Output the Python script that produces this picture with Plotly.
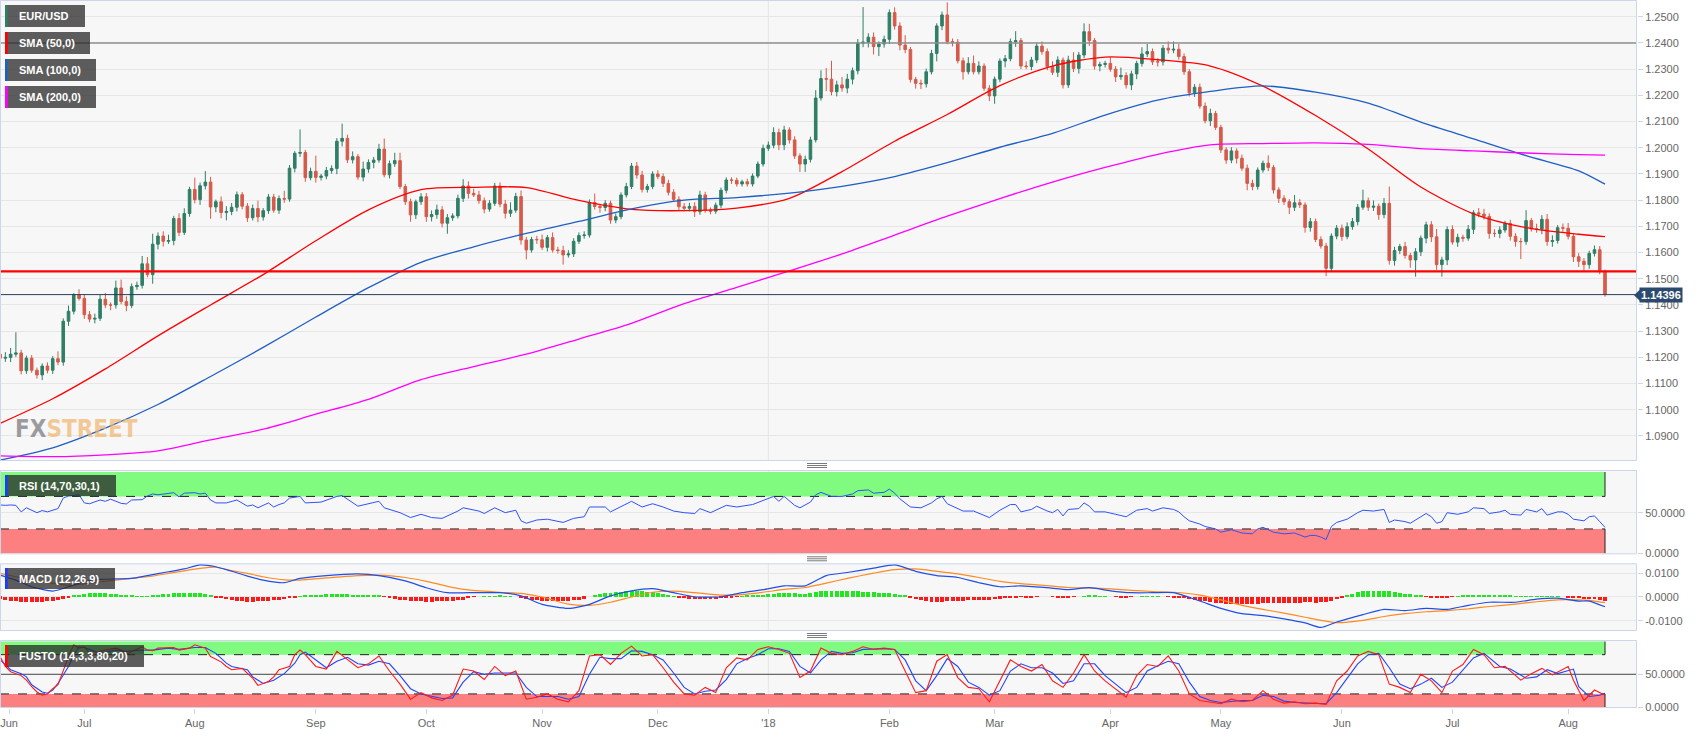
import plotly.graph_objects as go
import pandas as pd

# ---------------------------------------------------------------- data
DATES = pd.bdate_range("2017-06-09", "2018-08-10")  # 306 daily candles

CLOSE_2017_06 = [1.1197, 1.1200, 1.1212, 1.1217, 1.1149, 1.1197, 1.1151, 1.1133, 1.1167, 1.1151,
                 1.1195, 1.1182, 1.1338, 1.1376, 1.1440, 1.1425]
CLOSE_2017_07 = [1.1363, 1.1346, 1.1349, 1.1422, 1.1400, 1.1400, 1.1465, 1.1413, 1.1398, 1.1470,
                 1.1475, 1.1557, 1.1516, 1.1632, 1.1663, 1.1643, 1.1646, 1.1730, 1.1677, 1.1749, 1.1841]
CLOSE_2017_08 = [1.1802, 1.1855, 1.1869, 1.1774, 1.1794, 1.1753, 1.1757, 1.1773, 1.1821, 1.1777,
                 1.1733, 1.1768, 1.1736, 1.1760, 1.1812, 1.1762, 1.1806, 1.1804, 1.1922, 1.1979,
                 1.1982, 1.1886, 1.1910]
CLOSE_2017_09 = [1.1887, 1.1892, 1.1913, 1.1921, 1.2025, 1.2036, 1.1954, 1.1966, 1.1888, 1.1919,
                 1.1944, 1.1953, 1.1995, 1.1897, 1.1939, 1.1951, 1.1852, 1.1794, 1.1744, 1.1794, 1.1813]
CLOSE_2017_10 = [1.1737, 1.1745, 1.1763, 1.1712, 1.1733, 1.1740, 1.1807, 1.1854, 1.1826, 1.1820,
                 1.1798, 1.1766, 1.1788, 1.1854, 1.1785, 1.1750, 1.1762, 1.1814, 1.1648, 1.1610,
                 1.1650, 1.1649]
CLOSE_2017_11 = [1.1620, 1.1657, 1.1610, 1.1608, 1.1591, 1.1595, 1.1643, 1.1665, 1.1667, 1.1791,
                 1.1776, 1.1772, 1.1788, 1.1724, 1.1737, 1.1820, 1.1852, 1.1930, 1.1896, 1.1841,
                 1.1852, 1.1900]
CLOSE_2017_12 = [1.1890, 1.1864, 1.1830, 1.1803, 1.1775, 1.1769, 1.1776, 1.1756, 1.1820, 1.1762,
                 1.1758, 1.1781, 1.1838, 1.1877, 1.1876, 1.1862, 1.1870, 1.1862, 1.1892, 1.1938, 1.1998]
CLOSE_2018_01 = [1.2010, 1.2058, 1.2011, 1.2068, 1.2030, 1.1969, 1.1938, 1.1956, 1.2030, 1.2190,
                 1.2264, 1.2262, 1.2214, 1.2240, 1.2228, 1.2262, 1.2294, 1.2399, 1.2403, 1.2422,
                 1.2386, 1.2396, 1.2414]
CLOSE_2018_02 = [1.2516, 1.2465, 1.2392, 1.2375, 1.2261, 1.2246, 1.2244, 1.2290, 1.2360, 1.2465,
                 1.2507, 1.2405, 1.2403, 1.2332, 1.2290, 1.2322, 1.2290, 1.2312, 1.2227, 1.2198]
CLOSE_2018_03 = [1.2262, 1.2331, 1.2340, 1.2405, 1.2409, 1.2312, 1.2310, 1.2335, 1.2388, 1.2367,
                 1.2310, 1.2288, 1.2335, 1.2240, 1.2335, 1.2303, 1.2354, 1.2443, 1.2409, 1.2312,
                 1.2318, 1.2322]
CLOSE_2018_04 = [1.2300, 1.2271, 1.2276, 1.2240, 1.2282, 1.2322, 1.2358, 1.2367, 1.2328, 1.2328,
                 1.2380, 1.2373, 1.2376, 1.2348, 1.2290, 1.2210, 1.2231, 1.2159, 1.2103, 1.2131, 1.2078]
CLOSE_2018_05 = [1.1992, 1.1953, 1.1988, 1.1960, 1.1922, 1.1864, 1.1852, 1.1915, 1.1941, 1.1925,
                 1.1839, 1.1807, 1.1794, 1.1773, 1.1790, 1.1782, 1.1696, 1.1718, 1.1650, 1.1625,
                 1.1540, 1.1663, 1.1693]
CLOSE_2018_06 = [1.1661, 1.1699, 1.1718, 1.1773, 1.1798, 1.1773, 1.1777, 1.1745, 1.1788, 1.1570,
                 1.1608, 1.1623, 1.1589, 1.1572, 1.1603, 1.1655, 1.1706, 1.1660, 1.1554, 1.1572, 1.1688]
CLOSE_2018_07 = [1.1640, 1.1658, 1.1655, 1.1689, 1.1752, 1.1747, 1.1738, 1.1673, 1.1673, 1.1686,
                 1.1711, 1.1662, 1.1642, 1.1642, 1.1722, 1.1690, 1.1690, 1.1727, 1.1642, 1.1646,
                 1.1695, 1.1693]
CLOSE_2018_08 = [1.1662, 1.1584, 1.1567, 1.1554, 1.1597, 1.1611, 1.1527, 1.14396]
FIRST_OPEN = 1.1212

# wick lengths above / below the body, in pips
UPPER_WICK = ([12, 20, 24, 79, 12, 10, 12, 10, 10, 14, 10, 28, 11, 22, 5, 20] +
              [15, 14, 18, 16, 24, 10, 28, 32, 20, 12, 14, 30, 26, 40, 14, 18, 22, 10, 20, 20, 10] +
              [45, 12, 42, 20, 8, 20, 20, 16, 12, 10, 12, 15, 30, 10, 12, 12, 12, 30, 12, 8, 88, 10, 14] +
              [60, 8, 14, 12, 12, 56, 14, 20, 10, 28, 12, 12, 20, 40, 12, 30, 30, 10, 12, 8, 14] +
              [14, 16, 20, 14, 14, 10, 14, 26, 18, 18, 16, 12, 12, 12, 14, 16, 30, 14, 23, 12, 10, 14] +
              [20, 10, 20, 12, 18, 14, 12, 12, 14, 12, 34, 10, 12, 10, 12, 10, 14, 12, 16, 16, 10, 10] +
              [14, 12, 14, 12, 12, 14, 14, 16, 16, 12, 10, 10, 10, 10, 10, 10, 8, 12, 10, 10, 14] +
              [14, 20, 15, 16, 10, 14, 10, 14, 12, 30, 32, 40, 70, 16, 30, 20, 12, 16, 134, 15, 18, 10, 14] +
              [12, 20, 14, 38, 10, 10, 14, 12, 14, 10, 13, 48, 12, 12, 12, 24, 30, 18, 10, 12] +
              [10, 10, 14, 12, 36, 10, 18, 12, 14, 18, 12, 20, 14, 10, 16, 30, 12, 32, 30, 10, 10, 10] +
              [24, 12, 30, 12, 12, 10, 26, 30, 12, 14, 12, 26, 30, 20, 12, 10, 12, 14, 14, 18, 10] +
              [10, 10, 14, 10, 14, 14, 14, 10, 10, 30, 10, 10, 12, 10, 30, 14, 10, 14, 12, 12, 12, 10, 12] +
              [14, 16, 14, 12, 42, 12, 22, 10, 20, 64, 14, 10, 18, 10, 14, 10, 12, 14, 30, 12, 12] +
              [16, 14, 10, 16, 10, 18, 20, 12, 16, 14, 10, 14, 12, 14, 40, 10, 20, 16, 20, 20, 10, 16] +
              [20, 10, 14, 12, 10, 16, 14, 8])
LOWER_WICK = ([10, 14, 18, 10, 14, 12, 10, 14, 20, 12, 14, 12, 14, 18, 12, 8] +
              [16, 12, 16, 10, 12, 20, 14, 10, 22, 10, 12, 12, 10, 35, 20, 20, 10, 18, 14, 10, 12] +
              [14, 20, 14, 45, 20, 22, 30, 14, 16, 12, 16, 10, 20, 14, 12, 10, 14, 14, 10, 16, 14, 16, 10] +
              [20, 12, 12, 12, 22, 20, 12, 14, 10, 16, 14, 22, 10, 10, 14, 12, 10, 12, 26, 16, 12] +
              [20, 18, 16, 16, 40, 12, 10, 14, 20, 8, 12, 16, 10, 10, 12, 20, 14, 10, 18, 36, 10, 16] +
              [10, 16, 10, 12, 37, 10, 12, 10, 12, 10, 12, 20, 14, 14, 12, 10, 10, 10, 14, 12, 12, 10] +
              [10, 14, 12, 10, 16, 12, 12, 20, 12, 10, 12, 10, 12, 12, 14, 10, 10, 10, 10, 8, 10] +
              [10, 12, 20, 20, 14, 12, 30, 30, 12, 10, 10, 46, 14, 18, 14, 20, 20, 14, 15, 20, 30, 36, 14] +
              [18, 14, 20, 14, 12, 20, 20, 14, 10, 30, 16, 10, 16, 10, 30, 10, 10, 10, 10, 20] +
              [30, 12, 24, 10, 20, 12, 10, 14, 12, 12, 14, 10, 18, 14, 12, 14, 20, 12, 20, 14, 20, 12] +
              [10, 20, 12, 14, 20, 20, 12, 12, 12, 18, 14, 14, 12, 12, 12, 14, 16, 10, 10, 20, 10] +
              [12, 14, 12, 20, 10, 26, 14, 12, 10, 14, 14, 18, 12, 26, 14, 12, 20, 16, 10, 10, 30, 14, 12] +
              [16, 10, 12, 14, 10, 14, 14, 20, 14, 16, 20, 14, 12, 30, 64, 16, 20, 20, 20, 46, 20] +
              [10, 18, 14, 10, 18, 12, 12, 20, 14, 18, 10, 16, 20, 67, 12, 10, 14, 20, 16, 20, 12, 14] +
              [12, 20, 22, 24, 16, 12, 10, 8])

# moving averages, read every 10 candles (candle index, SMA50, SMA100, SMA200)
SMA_IDX = [0, 10, 20, 30, 40, 50, 60, 70, 80, 90, 100, 110, 120, 130, 140, 150, 160, 170, 180, 190,
           200, 210, 220, 230, 240, 250, 260, 270, 280, 290, 300, 305]
SMA_50 = [1.0948, 1.1042, 1.1156, 1.1282, 1.1400, 1.1516, 1.1645, 1.1763, 1.1840, 1.1849, 1.1848,
          1.1799, 1.1765, 1.1760, 1.1770, 1.1807, 1.1909, 1.2025, 1.2127, 1.2237, 1.2312, 1.2346,
          1.2336, 1.2312, 1.2235, 1.2123, 1.1995, 1.1850, 1.1748, 1.1695, 1.1670, 1.1661]
SMA_100 = [1.0808, 1.0855, 1.0930, 1.1020, 1.1127, 1.1238, 1.1354, 1.1466, 1.1563, 1.1622, 1.1673,
           1.1719, 1.1767, 1.1800, 1.1810, 1.1827, 1.1853, 1.1890, 1.1943, 1.2002, 1.2055, 1.2125,
           1.2182, 1.2215, 1.2236, 1.2212, 1.2170, 1.2098, 1.2034, 1.1970, 1.1912, 1.1861]
SMA_200 = [1.0824, 1.0821, 1.0828, 1.0843, 1.0885, 1.0926, 1.0983, 1.1040, 1.1115, 1.1165, 1.1212,
           1.1270, 1.1330, 1.1405, 1.1467, 1.1530, 1.1595, 1.1667, 1.1739, 1.1806, 1.1869, 1.1925,
           1.1975, 1.2011, 1.2016, 1.2019, 1.2013, 1.1997, 1.1988, 1.1980, 1.1974, 1.1972]

# horizontal levels
LEVEL_GREY = 1.2400
LEVEL_RED = 1.1528
LAST_PRICE = 1.14396

# RSI (candle index, value)
RSI_POINTS = [(0, 59.5), (1, 59), (2, 59.5), (3, 59), (4, 51), (5, 56), (7, 50), (8, 52.6), (9, 51), (10, 53),
              (11, 55), (12, 68), (13, 70.5), (15, 72), (16, 62), (17, 61), (19, 65.6), (20, 64), (21, 66.6),
              (23, 61.5), (24, 60.7), (25, 65.6), (27, 66), (28, 70.5), (29, 73), (30, 72), (32, 74), (33, 74.6),
              (34, 69.5), (35, 74), (37, 74.6), (38, 73), (39, 74), (40, 65.6), (41, 62), (43, 62), (45, 65.6),
              (47, 58), (48, 59.5), (49, 56), (51, 62), (52, 57), (53, 60), (54, 62), (55, 68), (57, 70),
              (58, 62), (61, 63), (64, 70), (65, 71), (68, 58), (71, 62), (72, 64), (73, 56), (76, 50), (78, 44),
              (80, 48), (82, 44), (84, 43), (87, 52), (88, 56), (91, 52), (92, 49), (94, 56), (96, 50), (98, 53),
              (99, 40), (100, 37), (102, 41), (104, 42), (107, 38), (109, 43), (111, 45), (112, 57), (115, 57),
              (116, 51), (118, 58), (120, 64), (122, 57), (124, 61), (126, 57), (128, 52), (130, 50), (132, 49),
              (133, 55), (135, 50), (137, 56), (138, 59), (140, 57), (143, 60), (145, 65), (147, 70), (148, 64),
              (149, 70), (151, 59), (152, 56), (154, 63), (155, 72), (156, 75), (158, 70), (160, 70), (162, 73),
              (163, 77), (165, 78), (166, 74), (168, 75), (169, 79), (170, 74), (171, 67), (173, 57), (175, 56),
              (177, 62), (178, 67), (179, 70), (180, 61), (182, 55), (183, 52), (185, 52), (187, 46), (188, 44),
              (190, 53), (192, 60), (193, 60), (194, 51), (196, 54), (197, 58), (199, 52), (200, 50), (201, 54),
              (202, 46), (203, 54), (205, 55), (206, 62), (207, 58), (208, 51), (210, 51), (212, 48), (214, 45),
              (216, 53), (218, 55), (219, 52), (221, 56), (223, 54), (224, 51), (225, 45), (226, 40), (228, 36),
              (229, 33), (231, 30), (232, 26), (234, 29), (236, 25), (238, 24), (239, 30), (240, 32), (242, 26),
              (244, 24), (246, 25), (248, 20), (249, 22), (250, 22), (251, 20), (252, 17), (253, 33), (254, 38),
              (256, 42), (258, 50), (259, 53), (261, 52), (263, 54), (264, 38), (265, 41), (267, 39), (268, 37),
              (270, 45), (271, 49), (272, 45), (273, 37), (274, 39), (275, 50), (277, 48), (279, 51), (280, 56),
              (282, 55), (283, 49), (285, 51), (286, 53), (287, 48), (289, 47), (290, 54), (292, 51), (293, 55),
              (294, 47), (296, 51), (297, 51), (298, 48), (299, 42), (300, 41), (301, 40), (302, 45), (303, 46),
              (304, 39), (305, 32)]

# MACD (12,26,9): line and signal read at these candles (units of 1e-4)
MACD_IDX = [0, 3, 6, 10, 13, 16, 19, 22, 25, 28, 32, 35, 38, 41, 44, 47, 50, 54, 57, 62,
            68, 72, 77, 81, 85, 89, 95, 99, 103, 108, 112, 116, 120, 124, 128, 132, 137, 141, 145, 149,
            153, 157, 161, 166, 170, 174, 178, 182, 186, 190, 194, 199, 203, 207, 211, 215, 219, 223, 228, 232,
            236, 240, 244, 248, 251, 254, 259, 263, 267, 271, 275, 279, 283, 288, 292, 296, 300, 302, 305]
MACD_LINE = [92, 71, 43, 25, 43, 64, 74, 76, 78, 90, 106, 118, 135, 127, 108, 88, 71, 60, 78, 90,
             97, 90, 68, 39, 18, 18, 18, 5, -31, -48, -31, 5, 26, 35, 18, 1, 1, 18, 31, 47,
             47, 90, 103, 121, 135, 108, 90, 82, 60, 43, 47, 39, 31, 39, 26, 18, 18, 18, -17, -48,
             -70, -78, -92, -109, -128, -105, -74, -52, -57, -48, -52, -35, -22, -22, -9, -5, -17, -17, -41]
MACD_SIGNAL = [99, 85, 71, 58, 50, 55, 64, 71, 78, 85, 99, 110, 120, 125, 111, 99, 85, 72, 71, 80,
               90, 92, 82, 66, 45, 30, 20, 15, 0, -30, -35, -22, 0, 20, 25, 18, 8, 10, 20, 32,
               40, 58, 78, 100, 115, 118, 108, 97, 82, 66, 56, 48, 40, 38, 34, 28, 23, 20, 8, -12,
               -35, -52, -68, -85, -98, -108, -98, -82, -70, -62, -57, -50, -40, -30, -20, -12, -12, -14, -24]
# histogram, one bar per candle (units of 1e-4)
MACD_HIST = ([-8, -12, -16, -20, -22, -24, -24, -23, -22, -20, -18, -14, -8] +
             [-2, 4, 8, 12, 14, 15, 15, 14, 12, 10, 8, 6] + [3, 2, 1, 2] +
             [5, 8, 10, 12, 14, 15, 16, 17, 16, 14, 10, 6] +
             [-2, -6, -10, -14, -17, -19, -21, -21, -20, -18, -16, -14, -12, -9, -6, -3] +
             [2, 5, 7, 8, 9, 10] + [10, 12, 12, 10, 9, 7, 6, 6, 6, 5] +
             [-1, -4, -8, -12, -15, -18, -19, -20, -21, -21, -20, -19, -18, -16, -14, -12] +
             [-2, -1, 0, 1, 2, 2, 3, 2, 1, 0] +
             [-4, -8, -12, -14, -16, -18, -19, -19, -18, -17, -15, -12, -8] +
             [0, 6, 10, 14, 16, 18, 20, 22, 24, 24, 22, 20, 18] +
             [14, 10, 6, 2, -2, -5, -8, -10, -11, -11, -10, -9, -7] +
             [-5, -3, -1, 1, 3, 5, 7, 9, 11] +
             [13, 14, 14, 15, 14, 13, 12, 14, 18, 22, 24, 25, 25, 24, 23, 22, 22, 21, 20, 18, 16, 14] +
             [14, 12, 8, 3, -4, -10, -15, -19, -21, -22, -21, -20, -19, -18, -16, -14, -13, -12] +
             [-12, -13, -11, -8, -6, -4, -2, -1, -2, -2, -1, 0] +
             [0, -1, -2, -3, -2, -1, 0, 2, 3, 3, 2, 1, 0, -1, -2, -2, -1, 0, 1, 2, 2, 1, 0, -1, -2, -4] +
             [-7, -10, -13, -16, -19, -22, -25, -28, -30, -31, -32, -32, -31, -30, -29, -28, -28, -28,
              -27, -26, -26, -25, -25, -24, -24, -25, -24, -22, -18, -10] +
             [-2, 6, 12, 18, 22, 25, 26, 26, 26, 22, 18, 15, 12, 10, 8, 7] +
             [-1, -3, -4, -4, -3, -1] +
             [1, 3, 5, 6, 7, 7, 6, 5, 4, 3, 3, 2, 2] +
             [2, 2, 2, 2, 1, 1, 1, 0, -2, -5, -7, -9, -10, -11, -13, -16])

# full stochastic (14,3,3): %K (red) and %D (blue), (candle index, value)
STOCH_K = [(0, 77), (1, 62), (2, 54), (4, 48), (5, 41), (6, 31), (7, 23), (8, 18), (9, 20), (10, 28), (11, 34),
           (12, 57), (13, 77), (14, 95), (15, 90), (16, 92), (17, 82), (18, 80), (19, 85), (20, 87), (22, 90),
           (23, 87), (24, 80), (25, 85), (27, 92), (28, 87), (29, 86), (30, 90), (32, 90), (33, 91), (34, 87),
           (36, 90), (37, 95), (38, 92), (39, 90), (40, 77), (42, 69), (43, 62), (44, 57), (46, 59), (47, 51),
           (48, 44), (49, 33), (51, 39), (52, 46), (53, 57), (55, 62), (56, 80), (57, 87),
           (58, 80), (60, 62), (62, 58), (64, 85), (66, 72), (68, 60), (70, 66), (72, 78), (74, 55), (76, 35),
           (78, 12), (80, 22), (82, 14), (84, 10), (86, 18), (88, 58), (90, 55), (92, 42), (94, 62), (96, 48),
           (98, 55), (100, 12), (102, 15), (104, 20), (106, 12), (108, 8), (110, 25), (112, 78), (114, 80),
           (116, 65), (118, 82), (120, 93), (122, 78), (124, 80), (126, 60), (128, 38), (130, 20), (132, 18),
           (134, 30), (136, 22), (138, 60), (140, 75), (142, 72), (144, 88), (146, 92), (148, 88), (150, 82),
           (152, 45), (154, 55), (156, 90), (158, 82), (160, 80), (162, 85), (164, 92), (166, 88), (168, 90),
           (170, 88), (172, 55), (174, 22), (176, 25), (178, 70), (180, 80), (182, 45), (184, 30), (186, 28),
           (188, 8), (190, 40), (192, 72), (194, 62), (196, 55), (198, 65), (200, 40), (202, 30), (204, 52),
           (206, 80), (208, 55), (210, 40), (212, 28), (214, 15), (216, 48), (218, 65), (220, 62), (222, 78),
           (224, 55), (226, 20), (228, 10), (230, 8), (232, 5), (234, 12), (236, 8), (238, 10), (240, 25),
           (242, 12), (244, 6), (246, 8), (248, 5), (250, 6), (252, 4), (254, 40), (256, 55), (258, 78),
           (260, 85), (262, 80), (264, 35), (266, 30), (268, 22), (270, 50), (272, 40), (274, 22), (276, 55),
           (278, 65), (280, 88), (282, 80), (284, 60), (286, 62), (288, 48), (289, 41), (291, 51), (293, 59),
           (295, 49), (298, 62), (299, 41), (301, 10), (303, 26), (305, 18)]
STOCH_D = [(0, 72), (2, 57), (4, 51), (5, 46), (6, 34), (8, 23), (9, 21), (10, 26), (11, 36), (13, 62), (14, 80),
           (15, 92), (16, 91), (18, 85), (19, 82), (22, 87), (24, 85), (27, 87), (29, 87), (32, 90), (34, 88),
           (37, 91), (39, 91), (41, 82), (43, 67), (44, 62), (47, 57), (48, 46), (50, 36), (52, 41), (54, 51),
           (56, 67), (57, 80),
           (58, 84), (60, 72), (62, 60), (64, 70), (66, 76), (68, 66), (70, 64), (72, 70), (74, 66), (76, 48),
           (78, 28), (80, 20), (82, 16), (84, 13), (86, 14), (88, 38), (90, 54), (92, 50), (94, 52), (96, 52),
           (98, 52), (100, 30), (102, 16), (104, 16), (106, 16), (108, 12), (110, 16), (112, 50), (114, 76),
           (116, 74), (118, 74), (120, 86), (122, 85), (124, 80), (126, 72), (128, 52), (130, 30), (132, 20),
           (134, 24), (136, 26), (138, 42), (140, 66), (142, 74), (144, 80), (146, 89), (148, 89), (150, 85),
           (152, 62), (154, 52), (156, 72), (158, 85), (160, 82), (162, 83), (164, 88), (166, 89), (168, 89),
           (170, 88), (172, 72), (174, 40), (176, 25), (178, 48), (180, 74), (182, 62), (184, 38), (186, 30),
           (188, 18), (190, 25), (192, 55), (194, 66), (196, 60), (198, 60), (200, 52), (202, 36), (204, 40),
           (206, 66), (208, 66), (210, 48), (212, 35), (214, 22), (216, 30), (218, 55), (220, 63), (222, 70),
           (224, 66), (226, 38), (228, 16), (230, 10), (232, 7), (234, 9), (236, 10), (238, 10), (240, 18),
           (242, 16), (244, 9), (246, 7), (248, 6), (250, 6), (252, 5), (254, 22), (256, 45), (258, 66),
           (260, 80), (262, 82), (264, 60), (266, 35), (268, 28), (270, 35), (272, 44), (274, 30), (276, 38),
           (278, 56), (280, 75), (282, 82), (284, 68), (285, 62), (287, 58), (290, 44), (292, 46), (294, 57),
           (296, 51), (299, 58), (300, 31), (302, 16), (304, 18), (305, 21)]

MONTH_LABELS = ["Jun", "Jul", "Aug", "Sep", "Oct", "Nov", "Dec", "'18",
                "Feb", "Mar", "Apr", "May", "Jun", "Jul", "Aug"]
PRICE_TICKS = [1.09, 1.10, 1.11, 1.12, 1.13, 1.14, 1.15, 1.16, 1.17, 1.18,
               1.19, 1.20, 1.21, 1.22, 1.23, 1.24, 1.25]

# ---------------------------------------------------------------- derived
CLOSES = (CLOSE_2017_06 + CLOSE_2017_07 + CLOSE_2017_08 + CLOSE_2017_09 + CLOSE_2017_10 +
          CLOSE_2017_11 + CLOSE_2017_12 + CLOSE_2018_01 + CLOSE_2018_02 + CLOSE_2018_03 +
          CLOSE_2018_04 + CLOSE_2018_05 + CLOSE_2018_06 + CLOSE_2018_07 + CLOSE_2018_08)
N = len(CLOSES)
IDX = list(range(N))
OPENS = [FIRST_OPEN] + CLOSES[:-1]
HIGHS = [max(o, c) + u / 1e4 for o, c, u in zip(OPENS, CLOSES, UPPER_WICK)]
LOWS = [min(o, c) - w / 1e4 for o, c, w in zip(OPENS, CLOSES, LOWER_WICK)]

month_starts = [0] + [i for i in range(1, len(DATES)) if DATES[i].month != DATES[i - 1].month]
tickvals = [1.7 if i == 0 else i for i in month_starts]

# ---------------------------------------------------------------- geometry
PW, PH = 1637.0, 708.0          # plot area in px
X_RANGE = [-0.02, 311.08]


def fx(x):
    return x / PW


def fy(y):
    return (PH - y) / PH


GREEN = "#2f7e66"
RED = "#d65a4a"
FONT = "Liberation Sans, Arial, sans-serif"
BORDER = "#ccd6eb"
GRID = "#e6e6e6"
TICKFONT = dict(family=FONT, size=11, color="#666666")

fig = go.Figure()

fig.add_trace(go.Candlestick(
    x=IDX, open=OPENS, high=HIGHS, low=LOWS, close=CLOSES,
    increasing=dict(line=dict(color=GREEN, width=1), fillcolor=GREEN),
    decreasing=dict(line=dict(color=RED, width=1), fillcolor=RED),
    whiskerwidth=0, hoverinfo="skip", xaxis="x", yaxis="y"))

for vals, col in [(SMA_50, "#ff0000"), (SMA_100, "#1f5fc4"), (SMA_200, "#ff00ff")]:
    fig.add_trace(go.Scatter(x=SMA_IDX, y=vals, mode="lines",
                             line=dict(color=col, width=1.3, shape="spline", smoothing=0.8),
                             hoverinfo="skip", xaxis="x", yaxis="y"))

fig.add_trace(go.Scatter(x=[p[0] for p in RSI_POINTS], y=[p[1] for p in RSI_POINTS], mode="lines",
                         line=dict(color="#2f52f5", width=1), hoverinfo="skip", xaxis="x2", yaxis="y2"))

fig.add_trace(go.Bar(x=IDX, y=[h / 1e4 for h in MACD_HIST], width=0.75,
                     marker=dict(color=["#22e622" if h >= 0 else "#ff1a1a" for h in MACD_HIST], line=dict(width=0)),
                     hoverinfo="skip", xaxis="x3", yaxis="y3"))
fig.add_trace(go.Scatter(x=MACD_IDX, y=[v / 1e4 for v in MACD_SIGNAL], mode="lines",
                         line=dict(color="#ff8a1f", width=1.2, shape="spline", smoothing=0.6),
                         hoverinfo="skip", xaxis="x3", yaxis="y3"))
fig.add_trace(go.Scatter(x=MACD_IDX, y=[v / 1e4 for v in MACD_LINE], mode="lines",
                         line=dict(color="#1f4fe6", width=1.2, shape="spline", smoothing=0.6),
                         hoverinfo="skip", xaxis="x3", yaxis="y3"))

fig.add_trace(go.Scatter(x=[p[0] for p in STOCH_D], y=[p[1] for p in STOCH_D], mode="lines",
                         line=dict(color="#2244ff", width=1.1), hoverinfo="skip", xaxis="x4", yaxis="y4"))
fig.add_trace(go.Scatter(x=[p[0] for p in STOCH_K], y=[p[1] for p in STOCH_K], mode="lines",
                         line=dict(color="#ff1a1a", width=1.1), hoverinfo="skip", xaxis="x4", yaxis="y4"))

# ---------------------------------------------------------------- shapes
shapes = []


def rect_px(x0, y0, x1, y1, fill=None, line=None, lw=0, layer="above"):
    shapes.append(dict(type="rect", xref="paper", yref="paper",
                       x0=fx(x0), x1=fx(x1), y0=fy(y1), y1=fy(y0),
                       fillcolor=fill if fill else "rgba(0,0,0,0)",
                       line=dict(color=line if line else "rgba(0,0,0,0)", width=lw), layer=layer))


# year gridline
for ya in ["y", "y2", "y3", "y4"]:
    shapes.append(dict(type="line", xref="x", yref=ya + " domain", x0=month_starts[7], x1=month_starts[7],
                       y0=0, y1=1, line=dict(color=GRID, width=1), layer="below"))

# price levels
shapes.append(dict(type="line", xref="paper", yref="y", x0=0, x1=1, y0=LEVEL_GREY, y1=LEVEL_GREY,
                   line=dict(color="#8f8f8f", width=1.5), layer="above"))
shapes.append(dict(type="line", xref="paper", yref="y", x0=0, x1=1, y0=LEVEL_RED, y1=LEVEL_RED,
                   line=dict(color="#ff0000", width=2.2), layer="above"))
shapes.append(dict(type="line", xref="paper", yref="y", x0=0, x1=1, y0=LAST_PRICE, y1=LAST_PRICE,
                   line=dict(color="#2b3d5c", width=1), layer="above"))

# overbought / oversold bands
last = N - 1
for ya, lo, hi, top in [("y2", 30, 70, 100), ("y4", 20, 80, 100)]:
    shapes.append(dict(type="rect", xref="x", yref=ya, x0=X_RANGE[0], x1=last, y0=hi, y1=top,
                       fillcolor="#80fb80", line=dict(width=0), layer="below"))
    shapes.append(dict(type="rect", xref="x", yref=ya, x0=X_RANGE[0], x1=last, y0=0, y1=lo,
                       fillcolor="#fd8080", line=dict(width=0), layer="below"))
    for lv in (lo, hi):
        shapes.append(dict(type="line", xref="x", yref=ya, x0=X_RANGE[0], x1=last, y0=lv, y1=lv,
                           line=dict(color="#222222", width=1, dash="dash"), layer="below"))
    for a, b in [(hi, top), (0, lo)]:
        shapes.append(dict(type="line", xref="x", yref=ya, x0=last, x1=last, y0=a, y1=b,
                           line=dict(color="#222222", width=1), layer="below"))
shapes.append(dict(type="line", xref="paper", yref="y4", x0=0, x1=1, y0=50, y1=50,
                   line=dict(color="#444444", width=1), layer="below"))

# panel borders
for (y0, y1) in [(0, 461), (470, 554.3), (563.3, 631), (640, 708)]:
    rect_px(0.5, y0 + 0.5, PW - 0.5, y1 - 0.5, line=BORDER, lw=1)

# panel divider grips
for yc in [465.5, 558.8, 635.5]:
    for dy in (-2, 0, 2):
        shapes.append(dict(type="line", xref="paper", yref="paper", x0=fx(807), x1=fx(827),
                           y0=fy(yc + dy), y1=fy(yc + dy), line=dict(color="#7a7a7a", width=1)))

# label boxes
BOX = "rgba(40,40,40,0.75)"
labels = [  # x0, y0, x1, y1, strip colour, text
    (5, 5, 85, 27, GREEN, "EUR/USD"),
    (5, 32, 90, 54, "#ff0000", "SMA (50,0)"),
    (5, 59, 96, 81, "#1f5fc4", "SMA (100,0)"),
    (5, 86, 96, 108, "#ff00ff", "SMA (200,0)"),
    (5, 475, 116, 496, "#1a3cff", "RSI (14,70,30,1)"),
    (5, 568, 115, 589, "#1a3cff", "MACD (12,26,9)"),
    (5, 645, 144, 667, "#ff0000", "FUSTO (14,3,3,80,20)"),
]
annotations = []
for x0, y0, x1, y1, col, txt in labels:
    rect_px(x0, y0, x1, y1, fill=BOX)
    rect_px(x0, y0, x0 + 2.7, y1, fill=col)
    annotations.append(dict(xref="paper", yref="paper", x=fx(x0 + 12), y=fy((y0 + y1) / 2),
                            xanchor="left", yanchor="middle", showarrow=False, text="<b>" + txt + "</b>",
                            font=dict(family=FONT, size=11, color="#ffffff")))

# last price tag
shapes.append(dict(type="path", xref="paper", yref="paper",
                   path=f"M {fx(1634)},{fy(295.3)} L {fx(1640)},{fy(289.5)} L {fx(1640)},{fy(301)} Z",
                   fillcolor="#2c4a6e", line=dict(width=0)))
annotations.append(dict(xref="paper", yref="paper", x=fx(1639), y=fy(295.3), xanchor="left", yanchor="middle",
                        showarrow=False, text="<b>%.5f</b>" % LAST_PRICE, bgcolor="#2c4a6e", borderpad=1,
                        font=dict(family=FONT, size=11, color="#ffffff")))

# watermark
annotations.append(dict(xref="paper", yref="paper", x=fx(13), y=fy(429), xanchor="left", yanchor="middle",
                        showarrow=False,
                        text="<b><span style='color:rgba(125,125,130,0.75)'>FX</span>"
                             "<span style='color:rgba(240,180,105,0.7)'>STREET</span></b>",
                        font=dict(family="Liberation Sans Narrow, DejaVu Sans Condensed, Arial Narrow, sans-serif",
                                  size=24)))

# ---------------------------------------------------------------- layout
axis_common = dict(zeroline=False, showline=False, ticks="outside", ticklen=5, tickcolor=BORDER,
                   tickfont=TICKFONT, side="right", fixedrange=True)
xcommon = dict(range=X_RANGE, showgrid=False, zeroline=False, showline=False, fixedrange=True)

fig.update_layout(
    width=1707, height=734,
    margin=dict(l=0, r=70, t=0, b=26),
    paper_bgcolor="#ffffff", plot_bgcolor="#f7f7f7",
    showlegend=False, font=dict(family=FONT),
    xaxis=dict(**xcommon, anchor="y", showticklabels=False, rangeslider=dict(visible=False)),
    xaxis2=dict(**xcommon, anchor="y2", matches="x", showticklabels=False),
    xaxis3=dict(**xcommon, anchor="y3", matches="x", showticklabels=False),
    xaxis4=dict(**xcommon, anchor="y4", matches="x", tickvals=tickvals, ticktext=MONTH_LABELS,
                ticks="outside", ticklen=5, tickcolor=BORDER, tickfont=TICKFONT,
                ticklabeloverflow="allow"),
    yaxis=dict(**axis_common, domain=[0.34887, 1.0], range=[1.08045, 1.2564], anchor="x",
               tickvals=PRICE_TICKS, ticktext=["%.4f" % v for v in PRICE_TICKS],
               showgrid=True, gridcolor=GRID),
    yaxis2=dict(**axis_common, domain=[0.21709, 0.33616], range=[-1.2, 102.5], anchor="x2",
                tickvals=[0, 50], ticktext=["0.0000", "50.0000"], showgrid=True, gridcolor=GRID),
    yaxis3=dict(**axis_common, domain=[0.10876, 0.20438], range=[-0.01429, 0.01416], anchor="x3",
                tickvals=[-0.01, 0, 0.01], ticktext=["-0.0100", "0.0000", "0.0100"],
                showgrid=True, gridcolor=GRID),
    yaxis4=dict(**axis_common, domain=[0.0, 0.09605], range=[-1.5, 102.4], anchor="x4",
                tickvals=[0, 50], ticktext=["0.0000", "50.0000"], showgrid=False),
    shapes=shapes, annotations=annotations,
    bargap=0,
)

fig.write_html("out.html", config={"displayModeBar": False},
               post_script="document.body.style.margin='0px';document.body.style.overflow='hidden';")
